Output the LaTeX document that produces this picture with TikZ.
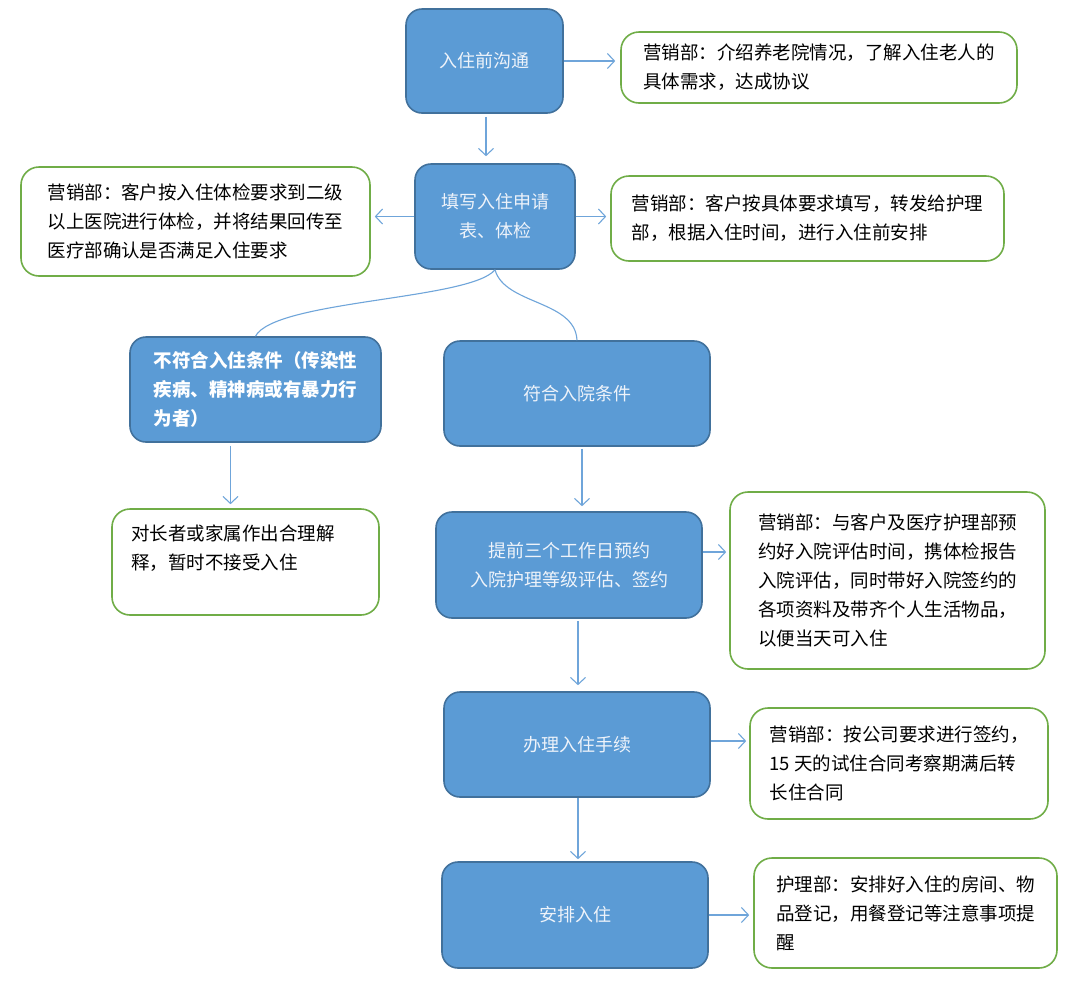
\documentclass[tikz,border=0pt]{standalone}
\usepackage{fontspec}
\setmainfont{Noto Sans CJK SC}
\usetikzlibrary{arrows.meta,calc}
\definecolor{bfill}{HTML}{5B9BD5}
\definecolor{bdraw}{HTML}{41719C}
\definecolor{gdraw}{HTML}{70AD47}
\definecolor{arrc}{HTML}{6FA5DA}
\definecolor{btext}{HTML}{EEF3FA}
\begin{document}
\begin{tikzpicture}[x=1pt,y=-1pt,
  bluebox/.style={draw=bdraw,line width=1.6pt,fill=bfill,rounded corners=16pt,
    text=btext,align=center,font=\fontsize{18}{29}\selectfont,inner sep=0pt},
  greenbox/.style={draw=gdraw,line width=1.6pt,fill=white,rounded corners=18pt,
    text=black,align=left,font=\fontsize{18.5}{29}\selectfont,inner sep=0pt},
  arr/.style={draw=arrc,line width=1.1pt,-{Straight Barb[length=7pt,width=15pt,line width=1.1pt]}},
  link/.style={draw=arrc,line width=1.1pt}]
\useasboundingbox[fill=white] (0,0) rectangle (1080,994);

% main column
\node[bluebox,minimum width=157pt,minimum height=104pt] (n1) at (484.5,61) {入住前沟通};
\node[bluebox,minimum width=160pt,minimum height=105pt] (n3) at (495,216.5) {填写入住申请\\表、体检};
\node[bluebox,minimum width=251pt,minimum height=105pt,align=left,text=white,
  font=\fontsize{18.5}{29}\selectfont\bfseries] (n6) at (255.5,389.5)
  {不符合入住条件（传染性\\疾病、精神病或有暴力行\\为者）};
\node[bluebox,minimum width=266pt,minimum height=105pt] (n7) at (577,393.5) {符合入院条件};
\node[bluebox,minimum width=266pt,minimum height=106pt] (n9) at (569,565) {提前三个工作日预约\\入院护理等级评估、签约};
\node[bluebox,minimum width=266pt,minimum height=105pt] (n11) at (577,744.5) {办理入住手续};
\node[bluebox,minimum width=266pt,minimum height=106pt] (n13) at (575,915) {安排入住};

% notes
\node[greenbox,minimum width=396pt,minimum height=71pt] (g1) at (819,67.5)
  {营销部：介绍养老院情况，了解入住老人的\\具体需求，达成协议};
\node[greenbox,minimum width=349pt,minimum height=109pt] (g2) at (195.5,221.5)
  {营销部：客户按入住体检要求到二级\\以上医院进行体检，并将结果回传至\\医疗部确认是否满足入住要求};
\node[greenbox,minimum width=393pt,minimum height=85pt] (g3) at (807.5,218.5)
  {营销部：客户按具体要求填写，转发给护理\\部，根据入住时间，进行入住前安排};
\node[greenbox,minimum width=267pt,minimum height=106pt] (g4) at (245.5,562) {};
\node[anchor=north west,inner sep=0pt,align=left,font=\fontsize{18.5}{29}\selectfont] (g4t)
  at ($(g4.north west)+(20pt,-16pt)$)
  {对长者或家属作出合理解\\释，暂时不接受入住};
\node[greenbox,minimum width=315pt,minimum height=177pt] (g10) at (887.5,580.5)
  {营销部：与客户及医疗护理部预\\约好入院评估时间，携体检报告\\入院评估，同时带好入院签约的\\各项资料及带齐个人生活物品，\\以便当天可入住};
\node[greenbox,minimum width=298pt,minimum height=111pt] (g12) at (899,763.5)
  {营销部：按公司要求进行签约，\\15 天的试住合同考察期满后转\\长住合同};
\node[greenbox,minimum width=303pt,minimum height=110pt] (g14) at (905.5,913)
  {护理部：安排好入住的房间、物\\品登记，用餐登记等注意事项提\\醒};

% connectors
\draw[arr,shorten >=5pt] (n1.east) -- (n1.east -| g1.west);
\draw[arr,shorten <=3pt,shorten >=7pt] ([xshift=1.5pt]n1.south) -- ([xshift=1.5pt]n1.south |- n3.north);
\draw[arr,shorten >=4pt] (n3.west) -- (n3.west -| g2.east);
\draw[arr,shorten >=4pt] (n3.east) -- (n3.east -| g3.west);
\draw[link] (n3.south) .. controls (470,300) and (275,300) .. (n6.north);
\draw[link] (n3.south) .. controls (505,305) and (575,300) .. (n7.north);
\draw[arr,shorten <=3pt,shorten >=4pt] ([xshift=-25pt]n6.south) -- ([xshift=-25pt]n6.south |- g4.north);
\draw[arr,shorten <=2pt,shorten >=5pt] ([xshift=5pt]n7.south) -- ([xshift=5pt]n7.south |- n9.north);
\draw[arr,shorten >=3pt] ([yshift=13pt]n9.east) -- ([yshift=13pt]n9.east -| g10.west);
\draw[arr,shorten <=2pt,shorten >=6pt] ([xshift=9pt]n9.south) -- ([xshift=9pt]n9.south |- n11.north);
\draw[arr,shorten >=3pt] ([yshift=3.5pt]n11.east) -- ([yshift=3.5pt]n11.east -| g12.west);
\draw[arr,shorten >=2pt] ([xshift=1pt]n11.south) -- ([xshift=1pt]n11.south |- n13.north);
\draw[arr,shorten >=4pt] (n13.east) -- (n13.east -| g14.west);
\end{tikzpicture}
\end{document}
